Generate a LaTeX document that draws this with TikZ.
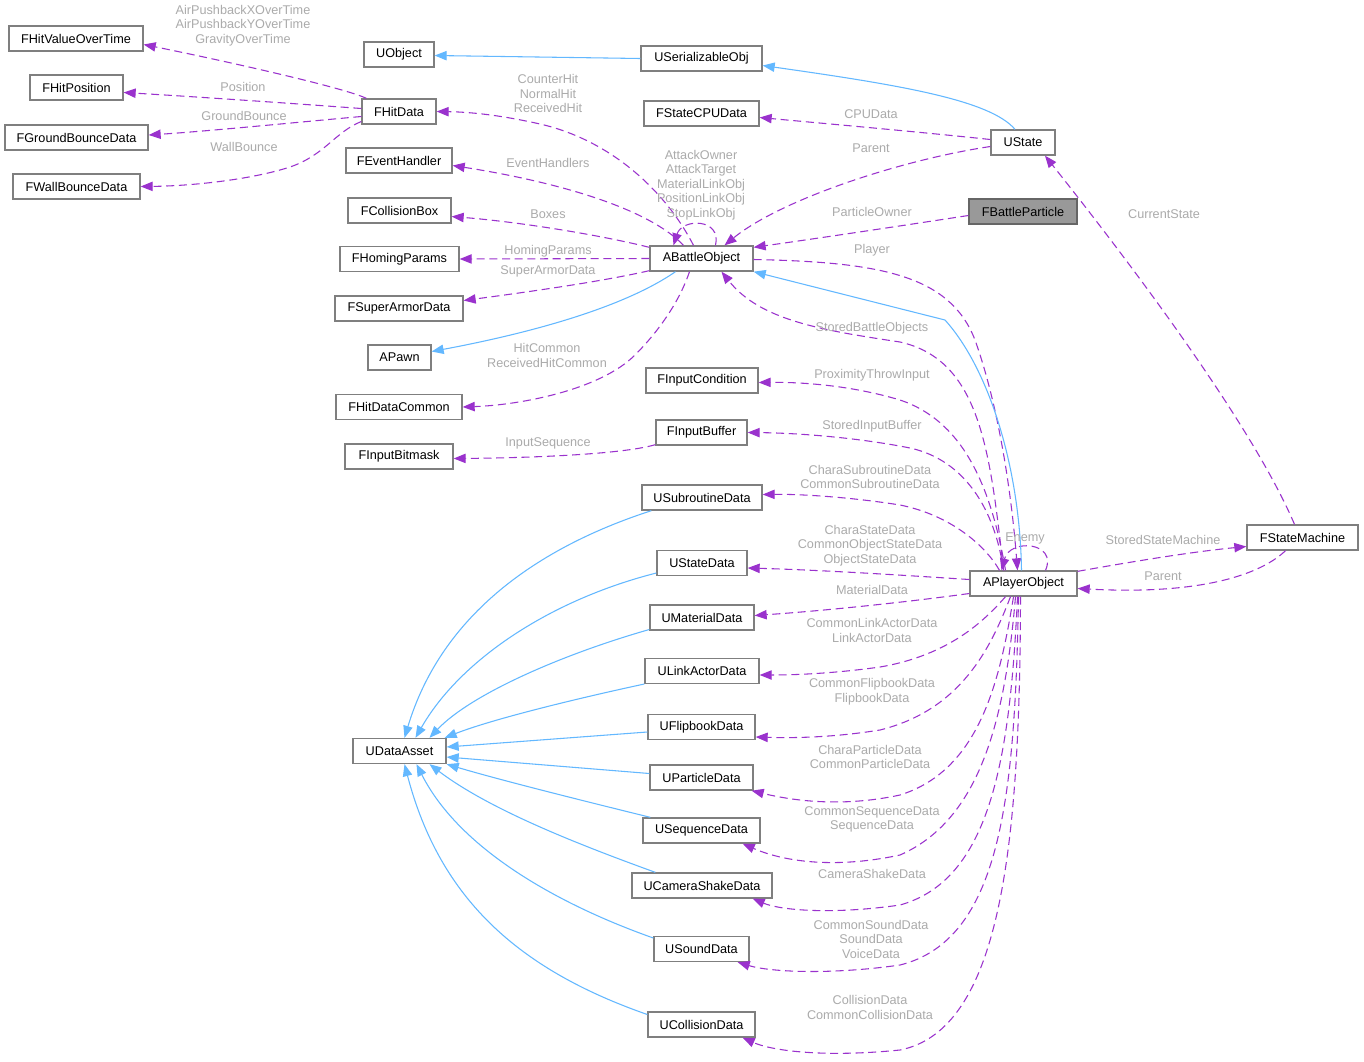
\documentclass[tikz,border=0pt]{standalone}
\usepackage{fontspec}
\setmainfont{Liberation Sans}
\usetikzlibrary{arrows.meta}
\definecolor{edgep}{HTML}{9A32CD}
\definecolor{edgeb}{HTML}{63B8FF}
\definecolor{lbl}{HTML}{ABABAB}
\definecolor{bord}{HTML}{7F7F7F}
\definecolor{grayfill}{HTML}{999999}
\begin{document}
\begin{tikzpicture}[x=0.75pt,y=-0.75pt,
 box/.style={draw=bord, line width=1pt, fill=white, minimum width={#1*0.75pt}, minimum height=18.75pt, inner sep=0pt, font=\fontsize{9.5}{11}\selectfont},
 lab/.style={text=lbl, font=\fontsize{9.5}{10.9}\selectfont, align=center, inner sep=0pt},
 use/.style={draw=edgep, line width=0.8pt, dash pattern=on 6pt off 3.5pt, -{Triangle[length=9pt,width=7pt]}},
 inh/.style={draw=edgeb, line width=0.8pt, -{Triangle[length=9pt,width=7pt]}},
]
\useasboundingbox[fill=white] (0,0) rectangle (1364,1061);
% nodes
\node[box=134] (hvot) at (76,38.5) {FHitValueOverTime};
\node[box=93] (hpos) at (76.5,87.5) {FHitPosition};
\node[box=143] (gbd) at (76.5,137.5) {FGroundBounceData};
\node[box=127] (wbd) at (76.5,186.5) {FWallBounceData};
\node[box=70] (uobj) at (399,54.5) {UObject};
\node[box=74] (hd) at (399,111.5) {FHitData};
\node[box=106] (eh) at (399,160.5) {FEventHandler};
\node[box=103] (cb) at (399.5,210.5) {FCollisionBox};
\node[box=119] (hp) at (399.5,259) {FHomingParams};
\node[box=128] (sad) at (399,308.5) {FSuperArmorData};
\node[box=63] (pawn) at (399.5,357.5) {APawn};
\node[box=126] (hdc) at (399,407) {FHitDataCommon};
\node[box=108] (ibm) at (399,456.5) {FInputBitmask};
\node[box=93] (uda) at (399.5,751) {UDataAsset};
\node[box=121] (sobj) at (701.5,58.5) {USerializableObj};
\node[box=115] (cpu) at (701.5,113.5) {FStateCPUData};
\node[box=103] (abo) at (701.5,258.5) {ABattleObject};
\node[box=112] (ic) at (702,380.5) {FInputCondition};
\node[box=91] (ib) at (701.5,432.5) {FInputBuffer};
\node[box=120] (usub) at (702,497.5) {USubroutineData};
\node[box=90] (usd) at (702,563) {UStateData};
\node[box=104] (umat) at (702,617.5) {UMaterialData};
\node[box=114] (ula) at (702,671) {ULinkActorData};
\node[box=107] (ufb) at (701.5,727) {UFlipbookData};
\node[box=103] (upd) at (701.5,777.5) {UParticleData};
\node[box=117] (useq) at (701.5,830.5) {USequenceData};
\node[box=140] (ucs) at (702,885.5) {UCameraShakeData};
\node[box=95] (usnd) at (701.5,949) {USoundData};
\node[box=107] (ucol) at (701.5,1024.5) {UCollisionData};
\node[box=64] (ust) at (1023,142.5) {UState};
\node[box=108, fill=grayfill, draw=bord!80!black] (fbp) at (1023,211.5) {FBattleParticle};
\node[box=107] (apo) at (1023.5,583.5) {APlayerObject};
\node[box=111] (fsm) at (1302.5,537.5) {FStateMachine};
% usage edges
\draw[use] ([shift={(5,0)}]hd.north west) .. controls (345,88) and (230,62) .. ([shift={(0,6)}]hvot.east);
\draw[use] ([shift={(0,-3)}]hd.west) .. controls (300,104) and (200,97) .. ([shift={(0,5)}]hpos.east);
\draw[use] ([shift={(0,5)}]hd.west) .. controls (300,122) and (210,131) .. ([shift={(0,-2.5)}]gbd.east);
\draw[use] ([shift={(0,10)}]hd.west) .. controls (335,132) and (325,155) .. (290,167) .. controls (250,180) and (190,186) .. (wbd.east);
\draw[use] ([shift={(-8,0)}]abo.north) .. controls (665,190) and (610,140) .. (540,124) .. controls (500,115) and (470,112) .. (hd.east);
\draw[use] ([shift={(-18,0)}]abo.north) .. controls (645,205) and (545,180) .. ([shift={(0,5)}]eh.east);
\draw[use] ([shift={(0,2)}]abo.north west) .. controls (600,235) and (520,222) .. ([shift={(0,6)}]cb.east);
\draw[use] (abo.west) -- (hp.east);
\draw[use] ([shift={(0,-1)}]abo.south west) .. controls (600,282) and (520,293) .. ([shift={(0,-8)}]sad.east);
\draw[use] ([shift={(-12,0)}]abo.south) .. controls (680,300) and (660,330) .. (635,355) .. controls (600,390) and (520,405) .. (hdc.east);
\draw[use] ([shift={(14,0)}]abo.north) .. controls (722,218) and (682,218) .. ([shift={(-28,0)}]abo.north);
\draw[use] ([shift={(0,-3)}]ust.west) .. controls (920,132) and (830,124) .. ([shift={(0,4)}]cpu.east);
\draw[use] ([shift={(0,4)}]ust.west) .. controls (900,160) and (780,200) .. ([shift={(23,0)}]abo.north);
\draw[use] ([shift={(0,4)}]fbp.west) .. controls (900,226) and (820,238) .. ([shift={(0,2)}]abo.north east);
\draw[use] ([shift={(0,1)}]abo.east) .. controls (880,262) and (950,275) .. (975,340) .. controls (1000,410) and (1012,500) .. ([shift={(-6,0)}]apo.north);
\draw[use] ([shift={(-20,0)}]apo.north) .. controls (990,450) and (980,360) .. (900,342) .. controls (820,330) and (760,320) .. ([shift={(20,0)}]abo.south);
\draw[use] ([shift={(-18,0)}]apo.north) .. controls (990,480) and (960,420) .. (900,400) .. controls (850,385) and (800,382) .. ([shift={(0,2)}]ic.east);
\draw[use] ([shift={(-20,0)}]apo.north) .. controls (995,510) and (965,460) .. (910,448) .. controls (860,438) and (800,433) .. (ib.east);
\draw[use] ([shift={(0,-1)}]ib.south west) .. controls (620,455) and (520,458) .. ([shift={(0,2)}]ibm.east);
\draw[use] ([shift={(-24,0)}]apo.north) .. controls (985,545) and (950,515) .. (900,505) .. controls (850,497) and (800,494) .. ([shift={(0,-3)}]usub.east);
\draw[use] ([shift={(0,-4)}]apo.west) .. controls (900,575) and (820,570) .. ([shift={(0,5)}]usd.east);
\draw[use] ([shift={(0,10)}]apo.west) .. controls (900,603) and (820,611) .. ([shift={(0,-2)}]umat.east);
\draw[use] ([shift={(-18,0)}]apo.south) .. controls (985,620) and (950,655) .. (880,667) .. controls (830,674) and (790,675) .. ([shift={(0,4)}]ula.east);
\draw[use] ([shift={(-13,0)}]apo.south) .. controls (990,650) and (960,710) .. (880,730) .. controls (830,738) and (790,738) .. ([shift={(0,10)}]ufb.east);
\draw[use] ([shift={(-10,0)}]apo.south) .. controls (1000,680) and (980,770) .. (900,795) .. controls (840,808) and (790,800) .. ([shift={(-2,0)}]upd.south east);
\draw[use] ([shift={(-8,0)}]apo.south) .. controls (1005,720) and (980,820) .. (900,855) .. controls (830,870) and (780,860) .. ([shift={(-18,0)}]useq.south east);
\draw[use] ([shift={(-6,0)}]apo.south) .. controls (1010,760) and (990,880) .. (900,905) .. controls (830,915) and (780,910) .. ([shift={(-20,0)}]ucs.south east);
\draw[use] ([shift={(-5,0)}]apo.south) .. controls (1015,800) and (1000,940) .. (900,965) .. controls (830,975) and (770,972) .. ([shift={(-12,0)}]usnd.south east);
\draw[use] ([shift={(-3,0)}]apo.south) .. controls (1020,850) and (1000,1030) .. (900,1050) .. controls (820,1058) and (770,1050) .. ([shift={(-13,0)}]ucol.south east);
\draw[use] ([shift={(22,0)}]apo.north) .. controls (1058,542) and (1010,538) .. ([shift={(-22,0)}]apo.north);
\draw[use] ([shift={(0,1)}]apo.north east) .. controls (1130,562) and (1190,552) .. ([shift={(0,9)}]fsm.west);
\draw[use] ([shift={(-17,0)}]fsm.south) .. controls (1260,575) and (1200,595) .. ([shift={(0,5)}]apo.east);
\draw[use] ([shift={(-8,0)}]fsm.north) .. controls (1250,420) and (1120,250) .. ([shift={(22,0)}]ust.south);
% inheritance edges
\draw[inh] (sobj.west) -- ([shift={(0,1)}]uobj.east);
\draw[inh] ([shift={(-8,0)}]ust.north) .. controls (990,100) and (900,85) .. ([shift={(0,7)}]sobj.east);
\draw[inh] ([shift={(-26,0)}]abo.south) .. controls (620,310) and (520,335) .. ([shift={(0,-6)}]pawn.east);
\draw[inh] ([shift={(-2,0)}]apo.north) .. controls (1020,470) and (990,370) .. (945,320) -- (abo.south east);
\draw[inh] ([shift={(10,0)}]usub.south west) .. controls (530,550) and (440,620) .. ([shift={(5,0)}]uda.north);
\draw[inh] ([shift={(0,10)}]usd.west) .. controls (550,600) and (460,660) .. ([shift={(16,0)}]uda.north);
\draw[inh] ([shift={(0,12)}]umat.west) .. controls (560,655) and (470,695) .. ([shift={(30,0)}]uda.north);
\draw[inh] ([shift={(0,13)}]ula.west) .. controls (570,700) and (490,720) .. ([shift={(-2,0)}]uda.north east);
\draw[inh] ([shift={(0,5)}]ufb.west) -- ([shift={(0,-4)}]uda.east);
\draw[inh] ([shift={(0,-4)}]upd.west) -- ([shift={(0,6)}]uda.east);
\draw[inh] ([shift={(8,0)}]useq.north west) .. controls (580,800) and (500,780) .. (uda.south east);
\draw[inh] ([shift={(24,0)}]ucs.north west) .. controls (580,845) and (490,810) .. ([shift={(30,0)}]uda.south);
\draw[inh] ([shift={(0,-11)}]usnd.west) .. controls (560,905) and (460,850) .. ([shift={(17,0)}]uda.south);
\draw[inh] ([shift={(0,-10)}]ucol.west) .. controls (520,970) and (440,900) .. ([shift={(5,0)}]uda.south);
% labels
\node[lab] (l1) at (243,25.5) {AirPushbackXOverTime\\AirPushbackYOverTime\\GravityOverTime};
\node[lab] (l2) at (243,87) {Position};
\node[lab] (l3) at (244,116) {GroundBounce};
\node[lab] (l4) at (244,147) {WallBounce};
\node[lab] (l5) at (548,93.5) {CounterHit\\NormalHit\\ReceivedHit};
\node[lab] (l6) at (548,163) {EventHandlers};
\node[lab] (l7) at (548,214) {Boxes};
\node[lab] (l8) at (548,251) {HomingParams};
\node[lab] (l9) at (548,271) {SuperArmorData};
\node[lab] (l10) at (547,355.5) {HitCommon\\ReceivedHitCommon};
\node[lab] (l11) at (548,443) {InputSequence};
\node[lab] (l12) at (701,185) {AttackOwner\\AttackTarget\\MaterialLinkObj\\PositionLinkObj\\StopLinkObj};
\node[lab] (l13) at (871,114) {CPUData};
\node[lab] (l14) at (871,148) {Parent};
\node[lab] (l15) at (872,212) {ParticleOwner};
\node[lab] (l16) at (872,250) {Player};
\node[lab] (l17) at (872,328) {StoredBattleObjects};
\node[lab] (l18) at (872,375) {ProximityThrowInput};
\node[lab] (l19) at (872,426) {StoredInputBuffer};
\node[lab] (l20) at (870,477) {CharaSubroutineData\\CommonSubroutineData};
\node[lab] (l21) at (870,545.5) {CharaStateData\\CommonObjectStateData\\ObjectStateData};
\node[lab] (l22) at (872,590) {MaterialData};
\node[lab] (l23) at (872,630.5) {CommonLinkActorData\\LinkActorData};
\node[lab] (l24) at (872,691.5) {CommonFlipbookData\\FlipbookData};
\node[lab] (l25) at (870,757) {CharaParticleData\\CommonParticleData};
\node[lab] (l26) at (872,819.5) {CommonSequenceData\\SequenceData};
\node[lab] (l27) at (872,874) {CameraShakeData};
\node[lab] (l28) at (871,939) {CommonSoundData\\SoundData\\VoiceData};
\node[lab] (l29) at (870,1007.5) {CollisionData\\CommonCollisionData};
\node[lab] (l30) at (1025,538) {Enemy};
\node[lab] (l31) at (1163,540) {StoredStateMachine};
\node[lab] (l32) at (1163,576) {Parent};
\node[lab] (l33) at (1164,214) {CurrentState};
\end{tikzpicture}
\end{document}
